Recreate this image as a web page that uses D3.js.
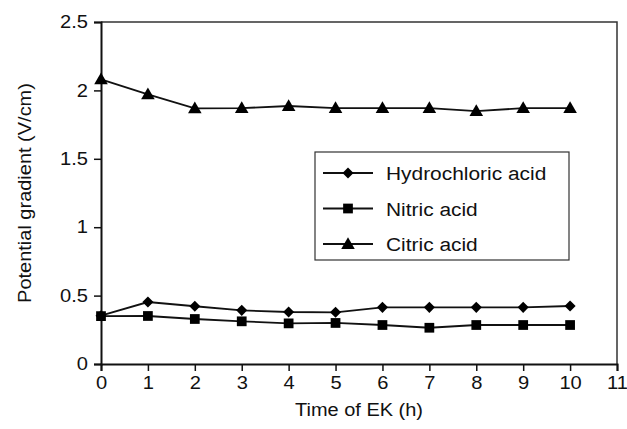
<!DOCTYPE html>
<html>
<head>
<meta charset="utf-8">
<script src="https://cdn.jsdelivr.net/npm/d3@7"></script>
<style>
  body { margin: 0; background: #fff; }
  text { font-family: "Liberation Sans", Arial, sans-serif; fill: #111; }
</style>
</head>
<body>
<div id="chart"></div>
<script>
// data
var hours = [0, 1, 2, 3, 4, 5, 6, 7, 8, 9, 10];
var hydrochloric = [0.353, 0.453, 0.422, 0.392, 0.380, 0.378, 0.414, 0.414, 0.414, 0.414, 0.424];
var nitric = [0.350, 0.351, 0.329, 0.312, 0.297, 0.300, 0.285, 0.265, 0.285, 0.285, 0.285];
var citric = [2.081, 1.971, 1.869, 1.870, 1.886, 1.870, 1.870, 1.870, 1.849, 1.870, 1.870];
var seriesNames = ["Hydrochloric acid", "Nitric acid", "Citric acid"];
var xTicks = [0, 1, 2, 3, 4, 5, 6, 7, 8, 9, 10, 11];
var yTicks = [0, 0.5, 1, 1.5, 2, 2.5];

var width = 627, height = 429;
var margin = {top: 22, right: 10, bottom: 65, left: 101};
var ink = "#111";

var svg = d3.select("#chart").append("svg")
    .attr("width", width)
    .attr("height", height);

var x = d3.scaleLinear().domain([0, 11]).range([margin.left, width - margin.right]);
var y = d3.scaleLinear().domain([0, 2.5]).range([height - margin.bottom, margin.top]);

// frame (top + right), axes draw the other two sides
svg.append("path")
    .attr("d", "M" + x(0) + "," + y(2.5) + "H" + x(11) + "V" + y(0))
    .attr("fill", "none")
    .attr("stroke", "#333")
    .attr("stroke-width", 1.5);

var xAxis = svg.append("g")
    .attr("transform", "translate(0," + y(0) + ")")
    .call(d3.axisBottom(x).tickValues(xTicks).tickSize(7).tickPadding(6).tickFormat(d3.format("d")));
var yAxis = svg.append("g")
    .attr("transform", "translate(" + x(0) + ",0)")
    .call(d3.axisLeft(y).tickValues(yTicks).tickSize(7).tickPadding(6).tickFormat(function(d) { return String(d); }));

[xAxis, yAxis].forEach(function(a) {
  a.select(".domain").attr("stroke", ink).attr("stroke-width", 2);
  a.selectAll(".tick line").attr("stroke", ink).attr("stroke-width", 1.5);
  a.selectAll(".tick text")
    .style("font-size", "17.5px")
    .attr("fill", ink);
});
xAxis.selectAll(".tick text").attr("transform", "scale(1.15,1)").attr("x", 0);
yAxis.selectAll(".tick text").attr("transform", "translate(-13,0) scale(1.15,1)").attr("x", 0);

// axis titles
svg.append("text")
    .attr("transform", "translate(" + ((x(0) + x(11)) / 2) + ",416) scale(1.08,1)")
    .attr("text-anchor", "middle")
    .style("font-size", "18.5px")
    .text("Time of EK (h)");
svg.append("text")
    .attr("transform", "translate(31," + ((y(0) + y(2.5)) / 2) + ") rotate(-90) scale(1.08,1)")
    .attr("text-anchor", "middle")
    .style("font-size", "18.5px")
    .text("Potential gradient (V/cm)");

var series = [
  {name: seriesNames[0], values: hydrochloric, symbol: d3.symbolDiamond2, size: 78},
  {name: seriesNames[1], values: nitric, symbol: d3.symbolSquare, size: 95},
  {name: seriesNames[2], values: citric, symbol: d3.symbolTriangle, size: 80}
];

var line = d3.line()
    .x(function(d, i) { return x(hours[i]); })
    .y(function(d) { return y(d); });

series.forEach(function(s) {
  svg.append("path")
      .datum(s.values)
      .attr("d", line)
      .attr("fill", "none")
      .attr("stroke", ink)
      .attr("stroke-width", 1.8);
  svg.selectAll(null)
      .data(s.values)
      .enter().append("path")
      .attr("d", d3.symbol().type(s.symbol).size(s.size))
      .attr("transform", function(d, i) {
        var dy = s.symbol === d3.symbolTriangle ? 1 : 0;
        return "translate(" + x(hours[i]) + "," + (y(d) + dy) + ")";
      })
      .attr("fill", "#000");
});

// legend
var legend = svg.append("g").attr("transform", "translate(315,152)");
legend.append("rect")
    .attr("width", 254).attr("height", 108)
    .attr("fill", "#fff")
    .attr("stroke", "#333")
    .attr("stroke-width", 1.2);
var item = legend.selectAll(".item")
    .data(series)
    .enter().append("g")
    .attr("transform", function(d, i) { return "translate(0," + (21 + i * 35.5) + ")"; });
item.append("line")
    .attr("x1", 8).attr("x2", 58)
    .attr("stroke", ink).attr("stroke-width", 1.8);
item.append("path")
    .attr("d", function(d) { return d3.symbol().type(d.symbol).size(d.size)(); })
    .attr("transform", function(d) { return "translate(33," + (d.symbol === d3.symbolTriangle ? 1 : 0) + ")"; })
    .attr("fill", "#000");
item.append("text")
    .attr("transform", "translate(71,7) scale(1.1,1)")
    .style("font-size", "19px")
    .text(function(d) { return d.name; });
</script>
</body>
</html>
